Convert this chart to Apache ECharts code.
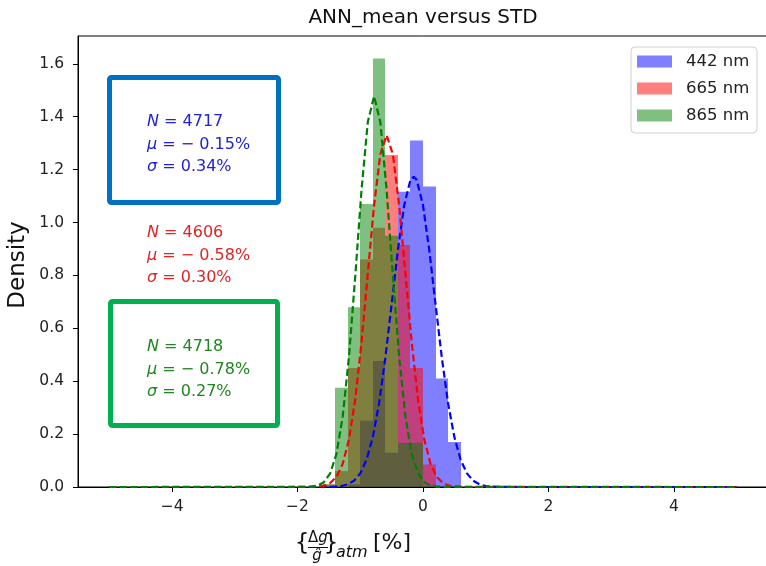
<!DOCTYPE html>
<html>
<head>
<meta charset="utf-8">
<script src="https://cdn.jsdelivr.net/npm/echarts@6/dist/echarts.min.js"></script>
<style>html,body{margin:0;padding:0;background:#fff}#c{width:766px;height:566px}</style>
</head>
<body>
<div id="c"></div>
<script>
// ---- data ----
const binStart = [-1.6, -1.4, -1.2, -1.0, -0.8, -0.6, -0.4, -0.2, 0.0, 0.2, 0.4];
const binWidth = 0.2;
const blueDensity  = [0, 0, 0.01, 0.25, 0.476, 0.13, 1.116, 1.31, 1.136, 0.41, 0.17];
const redDensity   = [0.01, 0.06, 0.45, 0.86, 0.98, 1.255, 0.915, 0.45, 0.085, 0, 0];
const greenDensity = [0.01, 0.375, 0.68, 1.07, 1.62, 0.95, 0.167, 0.167, 0.005, 0, 0];

const blueCurveX = [-5, -1.6, -1.4, -1.3, -1.2, -1.1, -1.0, -0.9, -0.8, -0.7, -0.6, -0.5, -0.4, -0.3, -0.2, -0.15, -0.1, 0.0, 0.1, 0.2, 0.3, 0.4, 0.5, 0.6, 0.7, 0.8, 0.9, 1.0, 1.1, 1.3, 5];
const blueCurveY = [0, 0.0001, 0.0014, 0.0038, 0.0100, 0.0237, 0.0515, 0.103, 0.1886, 0.317, 0.489, 0.691, 0.896, 1.065, 1.161, 1.173, 1.161, 1.065, 0.896, 0.691, 0.489, 0.317, 0.1886, 0.103, 0.0515, 0.0237, 0.0100, 0.0038, 0.0014, 0.0001, 0];

const redCurveX = [-5, -1.78, -1.58, -1.48, -1.38, -1.28, -1.18, -1.08, -0.98, -0.88, -0.78, -0.68, -0.58, -0.48, -0.38, -0.28, -0.18, -0.08, 0.02, 0.12, 0.22, 0.32, 0.42, 0.62, 5];
const redCurveY = [0, 0.0004, 0.0051, 0.0148, 0.0380, 0.0874, 0.1800, 0.3317, 0.5467, 0.8066, 1.0648, 1.2579, 1.3298, 1.2579, 1.0648, 0.8066, 0.5467, 0.3317, 0.1800, 0.0874, 0.0380, 0.0148, 0.0051, 0.0004, 0];

const greenCurveX = [-5, -1.98, -1.78, -1.68, -1.58, -1.48, -1.38, -1.28, -1.18, -1.08, -0.98, -0.88, -0.78, -0.68, -0.58, -0.48, -0.38, -0.28, -0.18, -0.08, 0.02, 0.12, 0.22, 0.42, 5];
const greenCurveY = [0, 0.0001, 0.0016, 0.0057, 0.0183, 0.0513, 0.1251, 0.2660, 0.4931, 0.7970, 1.1231, 1.3796, 1.4776, 1.3796, 1.1231, 0.7970, 0.4931, 0.2660, 0.1251, 0.0513, 0.0183, 0.0057, 0.0016, 0.0001, 0];

const seriesNames = ['442 nm', '665 nm', '865 nm'];
const xTicks = [-4, -2, 0, 2, 4];
const yTicks = [0, 0.2, 0.4, 0.6, 0.8, 1.0, 1.2, 1.4, 1.6];
const titleText = 'ANN_mean versus STD';
const yLabel = 'Density';
const stats = [
  {N: '4717', mu: '\u2212 0.15%', sigma: '0.34%'},
  {N: '4606', mu: '\u2212 0.58%', sigma: '0.30%'},
  {N: '4718', mu: '\u2212 0.78%', sigma: '0.27%'}
];

// ---- styles ----
const FONT = 'DejaVu Sans';
const fills = ['rgba(0,0,255,0.5)', 'rgba(255,0,0,0.5)', 'rgba(0,128,0,0.5)'];
const lineColors = ['#0000ff', '#ff0000', '#008000'];
const textColors = ['#2222d4', '#e02424', '#1f861f'];

function histData(d) { return binStart.map((s, i) => [s, s + binWidth, d[i]]); }
function curveData(xs, ys) { return xs.map((x, i) => [x, ys[i]]); }

function histSeries(name, dens, fill) {
  return {
    type: 'custom', name: name, data: histData(dens),
    encode: {x: [0, 1], y: 2},
    itemStyle: {color: fill},
    renderItem: function (params, api) {
      const p0 = api.coord([api.value(0), api.value(2)]);
      const p1 = api.coord([api.value(1), 0]);
      const x0 = Math.round(p0[0]), x1 = Math.round(p1[0]);
      const y0 = p0[1], y1 = Math.round(p1[1]);
      return {type: 'rect', shape: {x: x0, y: y0, width: x1 - x0, height: y1 - y0},
              style: {fill: fill}};
    },
    z: 2
  };
}
function lineSeries(name, xs, ys, color) {
  return {
    type: 'line', name: name, data: curveData(xs, ys), showSymbol: false,
    smooth: false, silent: true,
    lineStyle: {color: color, width: 2.2, type: [7, 3.5]}, z: 3
  };
}

const chart = echarts.init(document.getElementById('c'), null, {renderer: 'canvas'});

function statsText(i, x, y0) {
  const lines = [['N', ' = ' + stats[i].N], ['\u03bc', ' = ' + stats[i].mu], ['\u03c3', ' = ' + stats[i].sigma]];
  const gaps = [0, 22.5, 45];
  return lines.map((ln, k) => ({
    type: 'text', x: x, y: y0 + gaps[k], z: 10,
    style: {
      text: '{i|' + ln[0] + '}{r|' + ln[1] + '}',
      verticalAlign: 'middle', align: 'left',
      rich: {
        i: {fontStyle: 'italic', fontFamily: FONT, fontSize: 16, fill: textColors[i], fontWeight: 'normal'},
        r: {fontFamily: FONT, fontSize: 16, fill: textColors[i]}
      }
    }
  }));
}

const graphics = [
  {type: 'text', x: 423, y: 18, z: 10, style: {text: titleText, font: '20px ' + FONT, fill: '#111', align: 'center', verticalAlign: 'middle'}},
  {type: 'text', x: 18, y: 265, rotation: Math.PI / 2, z: 10, style: {text: yLabel, font: '23px ' + FONT, fill: '#111', align: 'center', verticalAlign: 'middle'}},
  // x-axis label  {Δg/ĝ}_atm [%]
  {type: 'text', x: 302, y: 544, z: 10, style: {text: '{', font: '23px ' + FONT, fill: '#111', align: 'center', verticalAlign: 'middle'}},
  {type: 'text', x: 318, y: 538, z: 10, style: {text: '\u0394{g|g}', font: '15px ' + FONT, fill: '#111', align: 'center', verticalAlign: 'middle', rich: {g: {fontStyle: 'italic', fontSize: 15, fontFamily: FONT, fill: '#111'}}}},
  {type: 'line', z: 10, shape: {x1: 308, y1: 547.5, x2: 328, y2: 547.5}, style: {stroke: '#111', lineWidth: 1}},
  {type: 'text', x: 317, y: 556, z: 10, style: {text: 'g\u0302', font: 'italic 15px ' + FONT, fill: '#111', align: 'center', verticalAlign: 'middle'}},
  {type: 'text', x: 331, y: 544, z: 10, style: {text: '}', font: '23px ' + FONT, fill: '#111', align: 'center', verticalAlign: 'middle'}},
  {type: 'text', x: 336, y: 553, z: 10, style: {text: 'atm', font: 'italic 16px ' + FONT, fill: '#111', align: 'left', verticalAlign: 'middle'}},
  {type: 'text', x: 373, y: 543, z: 10, style: {text: '[%]', font: '22px ' + FONT, fill: '#111', align: 'left', verticalAlign: 'middle'}},
  // annotation boxes
  {type: 'rect', z: 10, shape: {x: 109.5, y: 77.5, width: 169, height: 125, r: 2}, style: {fill: 'none', stroke: '#0070C0', lineWidth: 5}},
  {type: 'rect', z: 10, shape: {x: 110.5, y: 301.5, width: 167, height: 124, r: 2}, style: {fill: 'none', stroke: '#00B050', lineWidth: 5}}
].concat(statsText(0, 147, 122), statsText(1, 147, 233), statsText(2, 147, 347));

const option = {
  animation: false,
  backgroundColor: '#fff',
  grid: {left: 78, top: 36, width: 690, height: 451, show: true, borderColor: '#000', borderWidth: 1, backgroundColor: 'transparent', outerBoundsMode: 'none'},
  xAxis: {
    type: 'value', min: -5.5, max: 5.5,
    axisLine: {show: true, onZero: false, lineStyle: {color: '#000', width: 1}},
    splitLine: {show: false},
    axisTick: {show: true, length: 5, lineStyle: {color: '#000'}, customValues: xTicks},
    axisLabel: {customValues: xTicks, margin: 12, fontFamily: FONT, fontSize: 15.5, color: '#222',
      formatter: v => (v < 0 ? '\u2212' + Math.abs(v) : String(v))}
  },
  yAxis: {
    type: 'value', min: 0, max: 1.705,
    axisLine: {show: true, onZero: false, lineStyle: {color: '#000', width: 1}},
    splitLine: {show: false},
    axisTick: {show: true, length: 5, lineStyle: {color: '#000'}, customValues: yTicks},
    axisLabel: {customValues: yTicks, margin: 14, fontFamily: FONT, fontSize: 15.5, color: '#222',
      formatter: v => v.toFixed(1)}
  },
  legend: {
    orient: 'vertical', right: 9, top: 47,
    data: seriesNames.map((n, i) => ({name: n, icon: 'rect', itemStyle: {color: fills[i]}})),
    itemWidth: 35, itemHeight: 12, itemGap: 10,
    padding: [6, 5, 9, 6],
    backgroundColor: 'rgba(255,255,255,0.8)', borderColor: '#d0d0d0', borderWidth: 1, borderRadius: 4,
    textStyle: {fontFamily: FONT, fontSize: 16.5, color: '#222', lineHeight: 16, width: 66, padding: [0, 0, 0, 9]},
    selectedMode: false
  },
  graphic: graphics,
  series: [
    histSeries(seriesNames[0], blueDensity, fills[0]),
    histSeries(seriesNames[1], redDensity, fills[1]),
    histSeries(seriesNames[2], greenDensity, fills[2]),
    lineSeries('fit 442', blueCurveX, blueCurveY, lineColors[0]),
    lineSeries('fit 665', redCurveX, redCurveY, lineColors[1]),
    lineSeries('fit 865', greenCurveX, greenCurveY, lineColors[2])
  ]
};
chart.setOption(option);
</script>
</body>
</html>
